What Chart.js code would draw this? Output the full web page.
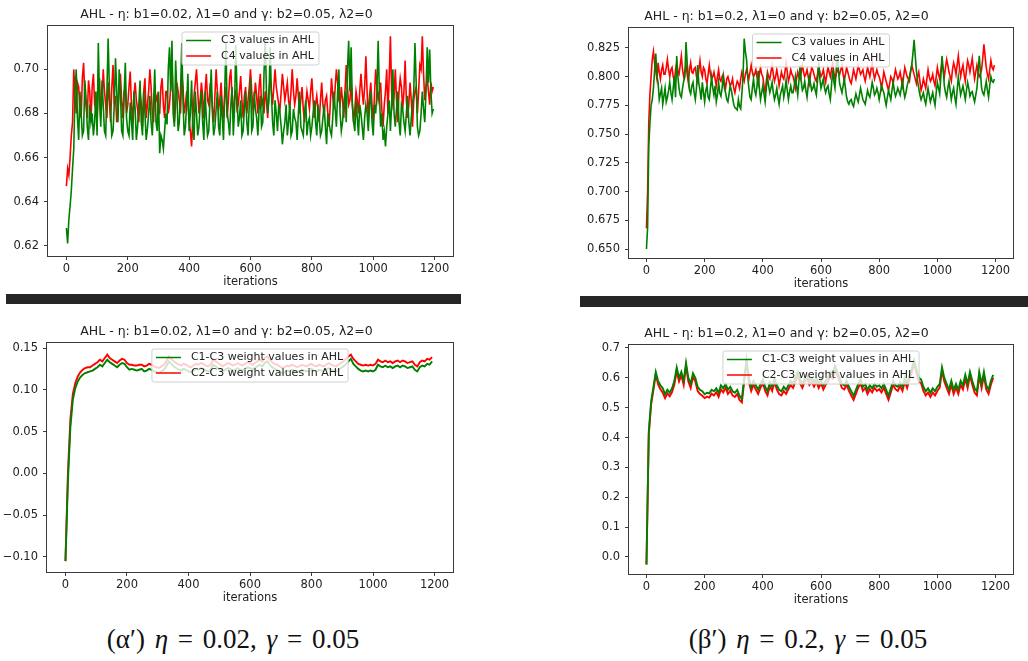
<!DOCTYPE html>
<html lang="en">
  <head>
    <meta charset="UTF-8" />
    <title>AHL values</title>
    <script src="https://cdn.jsdelivr.net/npm/chart.js"></script>
    <style>
      body {
        margin: 0;
        width: 1028px;
        height: 661px;
        background: #fff;
        position: relative;
        overflow: hidden;
      }
      canvas {
        position: absolute;
      }
      .bar {
        position: absolute;
        background: #262626;
        z-index: 2;
      }
      .cap {
        position: absolute;
        top: 624px;
        text-align: center;
        font-family: 'Liberation Serif', serif;
        font-size: 27px;
        word-spacing: 3px;
        color: #111;
      }
    </style>
  </head>
  <body>
    <canvas id="tl" width="470" height="294" style="left:0;top:0"></canvas>
    <canvas id="tr" width="468" height="296" style="left:560px;top:0"></canvas>
    <canvas id="bl" width="470" height="305" style="left:0;top:305px"></canvas>
    <canvas id="br" width="468" height="307" style="left:560px;top:305px"></canvas>
    <div class="bar" style="left:6px;top:294px;width:455px;height:10px"></div>
    <div class="bar" style="left:580px;top:296px;width:448px;height:11px"></div>
    <div class="cap" style="left:0;width:466px">(α′) <i>η</i> = 0.02, <i>γ</i> = 0.05</div>
    <div class="cap" style="left:580px;width:456px">(β′) <i>η</i> = 0.2, <i>γ</i> = 0.05</div>
  </body>
  <script>
    // sample iterations: weights every 8th iteration, activations every 4th
    const iterations = Array.from({ length: 150 }, (_, i) => i * 8)
    const iterationsFine = Array.from({ length: 300 }, (_, i) => i * 4)
    const xTicks = [0, 200, 400, 600, 800, 1000, 1200]

    // top left: eta b1=0.02 (values at 0, 8, 16 ... and at 4, 12, 20 ...)
    const tlYTicks = [0.62, 0.64, 0.66, 0.68, 0.7]
    const tlC3 = [
      0.628, 0.632, 0.645, 0.664, 0.700, 0.668, 0.680, 0.672, 0.687, 0.668,
      0.676, 0.670, 0.690, 0.712, 0.674, 0.684, 0.670, 0.714, 0.680, 0.672,
      0.705, 0.676, 0.690, 0.670, 0.703, 0.672, 0.685, 0.668, 0.682, 0.674,
      0.695, 0.670, 0.680, 0.673, 0.688, 0.670, 0.700, 0.672, 0.662, 0.668,
      0.672, 0.675, 0.710, 0.713, 0.674, 0.690, 0.676, 0.712, 0.670, 0.685,
      0.672, 0.695, 0.668, 0.680, 0.674, 0.690, 0.668, 0.678, 0.672, 0.700,
      0.670, 0.682, 0.674, 0.688, 0.668, 0.712, 0.676, 0.684, 0.670, 0.711,
      0.674, 0.686, 0.672, 0.690, 0.670, 0.696, 0.674, 0.682, 0.670, 0.688,
      0.676, 0.714, 0.680, 0.710, 0.676, 0.686, 0.672, 0.680, 0.666, 0.676,
      0.670, 0.685, 0.672, 0.678, 0.668, 0.690, 0.672, 0.680, 0.670, 0.678,
      0.674, 0.686, 0.670, 0.678, 0.672, 0.684, 0.666, 0.676, 0.670, 0.690,
      0.674, 0.700, 0.672, 0.684, 0.676, 0.713, 0.710, 0.676, 0.686, 0.670,
      0.680, 0.668, 0.684, 0.672, 0.690, 0.670, 0.680, 0.713, 0.674, 0.668,
      0.665, 0.680, 0.672, 0.700, 0.674, 0.690, 0.670, 0.682, 0.672, 0.688,
      0.670, 0.684, 0.712, 0.674, 0.672, 0.690, 0.676, 0.710, 0.709, 0.680,
    ]
    const tlC3Mid = [
      0.621, 0.638, 0.655, 0.690, 0.678, 0.690, 0.670, 0.695, 0.674, 0.684,
      0.680, 0.676, 0.670, 0.686, 0.695, 0.672, 0.690, 0.692, 0.670, 0.684,
      0.690, 0.700, 0.672, 0.688, 0.678, 0.670, 0.676, 0.690, 0.668, 0.684,
      0.676, 0.690, 0.668, 0.680, 0.676, 0.684, 0.676, 0.690, 0.670, 0.664,
      0.680, 0.700, 0.690, 0.680, 0.704, 0.672, 0.690, 0.686, 0.674, 0.698,
      0.680, 0.674, 0.690, 0.670, 0.684, 0.676, 0.690, 0.670, 0.686, 0.680,
      0.674, 0.690, 0.670, 0.678, 0.690, 0.680, 0.670, 0.692, 0.682, 0.690,
      0.678, 0.670, 0.682, 0.676, 0.684, 0.672, 0.690, 0.678, 0.682, 0.674,
      0.698, 0.690, 0.686, 0.690, 0.670, 0.680, 0.684, 0.674, 0.672, 0.684,
      0.676, 0.670, 0.682, 0.676, 0.680, 0.674, 0.670, 0.686, 0.676, 0.670,
      0.680, 0.676, 0.684, 0.670, 0.678, 0.674, 0.680, 0.672, 0.678, 0.682,
      0.690, 0.680, 0.676, 0.690, 0.700, 0.690, 0.684, 0.672, 0.678, 0.684,
      0.674, 0.678, 0.680, 0.684, 0.676, 0.684, 0.690, 0.690, 0.680, 0.672,
      0.674, 0.686, 0.684, 0.680, 0.682, 0.676, 0.684, 0.676, 0.680, 0.676,
      0.678, 0.690, 0.694, 0.670, 0.680, 0.682, 0.690, 0.694, 0.690, 0.682,
    ]
    const tlC4 = [
      0.647, 0.652, 0.670, 0.700, 0.680, 0.692, 0.678, 0.703, 0.684, 0.695,
      0.676, 0.698, 0.682, 0.692, 0.678, 0.700, 0.684, 0.694, 0.676, 0.702,
      0.688, 0.680, 0.698, 0.678, 0.692, 0.684, 0.699, 0.676, 0.694, 0.682,
      0.690, 0.674, 0.696, 0.684, 0.700, 0.680, 0.692, 0.688, 0.680, 0.696,
      0.678, 0.690, 0.684, 0.702, 0.676, 0.694, 0.686, 0.698, 0.680, 0.690,
      0.676, 0.665, 0.688, 0.700, 0.680, 0.694, 0.678, 0.698, 0.684, 0.690,
      0.676, 0.700, 0.682, 0.694, 0.678, 0.692, 0.686, 0.700, 0.680, 0.690,
      0.684, 0.697, 0.678, 0.692, 0.686, 0.700, 0.682, 0.694, 0.680, 0.698,
      0.686, 0.690, 0.678, 0.696, 0.684, 0.700, 0.688, 0.682, 0.698, 0.686,
      0.694, 0.682, 0.700, 0.684, 0.696, 0.680, 0.692, 0.676, 0.690, 0.682,
      0.696, 0.678, 0.688, 0.676, 0.694, 0.680, 0.688, 0.674, 0.696, 0.682,
      0.700, 0.686, 0.692, 0.678, 0.702, 0.684, 0.694, 0.676, 0.690, 0.680,
      0.698, 0.684, 0.706, 0.678, 0.694, 0.676, 0.700, 0.686, 0.694, 0.674,
      0.690, 0.680, 0.715, 0.684, 0.700, 0.676, 0.696, 0.682, 0.704, 0.678,
      0.694, 0.674, 0.690, 0.680, 0.702, 0.715, 0.686, 0.696, 0.684, 0.690,
    ]
    const tlC4Mid = [
      0.655, 0.660, 0.676, 0.688, 0.694, 0.682, 0.696, 0.688, 0.678, 0.690,
      0.692, 0.684, 0.676, 0.696, 0.686, 0.690, 0.678, 0.686, 0.692, 0.684,
      0.676, 0.692, 0.686, 0.690, 0.680, 0.692, 0.684, 0.688, 0.686, 0.676,
      0.684, 0.690, 0.678, 0.690, 0.692, 0.676, 0.686, 0.680, 0.692, 0.684,
      0.690, 0.680, 0.692, 0.686, 0.684, 0.690, 0.680, 0.692, 0.684, 0.684,
      0.672, 0.678, 0.694, 0.690, 0.686, 0.688, 0.690, 0.686, 0.692, 0.682,
      0.688, 0.690, 0.686, 0.684, 0.688, 0.678, 0.696, 0.686, 0.688, 0.682,
      0.690, 0.686, 0.688, 0.680, 0.692, 0.690, 0.686, 0.688, 0.692, 0.684,
      0.680, 0.686, 0.690, 0.690, 0.692, 0.692, 0.684, 0.690, 0.692, 0.690,
      0.686, 0.690, 0.690, 0.688, 0.688, 0.686, 0.682, 0.684, 0.686, 0.690,
      0.686, 0.684, 0.682, 0.686, 0.684, 0.686, 0.680, 0.684, 0.688, 0.692,
      0.694, 0.684, 0.686, 0.690, 0.692, 0.686, 0.684, 0.682, 0.686, 0.690,
      0.690, 0.692, 0.690, 0.688, 0.684, 0.688, 0.692, 0.690, 0.682, 0.684,
      0.700, 0.696, 0.690, 0.688, 0.686, 0.690, 0.692, 0.690, 0.686, 0.684,
      0.686, 0.686, 0.692, 0.690, 0.700, 0.698, 0.692, 0.690, 0.694, 0.692,
    ]

    // top right: eta b1=0.2 (values at 0, 8, 16 ... and at 4, 12, 20 ...)
    const trYTicks = [0.65, 0.675, 0.7, 0.725, 0.75, 0.775, 0.8, 0.825]
    const trC3 = [
      0.650, 0.740, 0.775, 0.790, 0.820, 0.795, 0.785, 0.776, 0.790, 0.782,
      0.795, 0.780, 0.800, 0.818, 0.790, 0.782, 0.796, 0.830, 0.800, 0.785,
      0.795, 0.780, 0.810, 0.788, 0.795, 0.778, 0.792, 0.780, 0.800, 0.784,
      0.778, 0.795, 0.783, 0.800, 0.786, 0.778, 0.792, 0.782, 0.773, 0.771,
      0.774, 0.785, 0.833, 0.815, 0.790, 0.780, 0.798, 0.784, 0.805, 0.780,
      0.792, 0.778, 0.800, 0.786, 0.795, 0.780, 0.790, 0.776, 0.788, 0.782,
      0.797, 0.780, 0.792, 0.786, 0.800, 0.784, 0.810, 0.788, 0.796, 0.782,
      0.800, 0.788, 0.794, 0.784, 0.812, 0.790, 0.798, 0.786, 0.792, 0.780,
      0.806, 0.790, 0.820, 0.794, 0.786, 0.798, 0.782, 0.776, 0.780, 0.774,
      0.785, 0.778, 0.790, 0.780, 0.776, 0.788, 0.782, 0.795, 0.784, 0.790,
      0.780, 0.792, 0.786, 0.775, 0.788, 0.780, 0.795, 0.783, 0.790, 0.784,
      0.796, 0.782, 0.792, 0.800, 0.810, 0.832, 0.805, 0.790, 0.780, 0.786,
      0.776, 0.790, 0.778, 0.786, 0.775, 0.795, 0.785, 0.818, 0.792, 0.782,
      0.796, 0.780, 0.790, 0.776, 0.800, 0.784, 0.792, 0.780, 0.795, 0.783,
      0.787, 0.778, 0.790, 0.818, 0.790, 0.784, 0.796, 0.782, 0.800, 0.795,
    ]
    const trC3Mid = [
      0.669, 0.760, 0.780, 0.805, 0.800, 0.780, 0.790, 0.783, 0.778, 0.788,
      0.786, 0.790, 0.782, 0.800, 0.784, 0.790, 0.800, 0.812, 0.788, 0.792,
      0.786, 0.790, 0.794, 0.780, 0.786, 0.788, 0.782, 0.790, 0.790, 0.792,
      0.784, 0.786, 0.790, 0.790, 0.780, 0.785, 0.788, 0.776, 0.772, 0.780,
      0.772, 0.800, 0.822, 0.800, 0.782, 0.790, 0.788, 0.792, 0.790, 0.786,
      0.785, 0.790, 0.792, 0.790, 0.786, 0.784, 0.782, 0.784, 0.792, 0.788,
      0.788, 0.787, 0.786, 0.792, 0.792, 0.796, 0.796, 0.790, 0.788, 0.792,
      0.794, 0.790, 0.788, 0.796, 0.798, 0.794, 0.790, 0.790, 0.785, 0.792,
      0.796, 0.804, 0.806, 0.790, 0.792, 0.790, 0.778, 0.779, 0.776, 0.780,
      0.781, 0.784, 0.785, 0.778, 0.782, 0.784, 0.788, 0.790, 0.786, 0.786,
      0.786, 0.789, 0.780, 0.782, 0.784, 0.788, 0.788, 0.786, 0.787, 0.790,
      0.788, 0.786, 0.796, 0.805, 0.820, 0.818, 0.796, 0.784, 0.783, 0.780,
      0.783, 0.784, 0.782, 0.780, 0.786, 0.790, 0.800, 0.806, 0.786, 0.790,
      0.788, 0.786, 0.782, 0.788, 0.792, 0.788, 0.786, 0.788, 0.790, 0.786,
      0.782, 0.784, 0.804, 0.804, 0.786, 0.790, 0.788, 0.792, 0.796, 0.798,
    ]
    const trC4 = [
      0.668, 0.760, 0.800, 0.822, 0.805, 0.812, 0.798, 0.810, 0.802, 0.815,
      0.800, 0.808, 0.796, 0.812, 0.802, 0.818, 0.800, 0.810, 0.795, 0.812,
      0.803, 0.808, 0.796, 0.814, 0.800, 0.806, 0.794, 0.810, 0.798, 0.804,
      0.792, 0.806, 0.796, 0.802, 0.790, 0.800, 0.792, 0.798, 0.786, 0.796,
      0.790, 0.804, 0.796, 0.806, 0.798, 0.810, 0.800, 0.806, 0.794, 0.808,
      0.800, 0.786, 0.804, 0.798, 0.810, 0.796, 0.806, 0.792, 0.804, 0.798,
      0.812, 0.796, 0.806, 0.800, 0.790, 0.804, 0.798, 0.810, 0.800, 0.806,
      0.794, 0.808, 0.802, 0.796, 0.810, 0.800, 0.806, 0.795, 0.808, 0.800,
      0.812, 0.798, 0.806, 0.802, 0.810, 0.796, 0.808, 0.800, 0.794, 0.806,
      0.798, 0.810, 0.802, 0.806, 0.796, 0.808, 0.800, 0.812, 0.798, 0.806,
      0.800, 0.790, 0.804, 0.796, 0.788, 0.800, 0.794, 0.806, 0.798, 0.804,
      0.792, 0.808, 0.800, 0.796, 0.810, 0.802, 0.794, 0.804, 0.788, 0.798,
      0.790, 0.806, 0.796, 0.802, 0.792, 0.808, 0.798, 0.812, 0.800, 0.815,
      0.804, 0.796, 0.812, 0.802, 0.818, 0.800, 0.810, 0.796, 0.814, 0.804,
      0.816, 0.798, 0.810, 0.800, 0.806, 0.828, 0.808, 0.798, 0.814, 0.806,
    ]
    const trC4Mid = [
      0.700, 0.785, 0.815, 0.812, 0.798, 0.804, 0.806, 0.802, 0.808, 0.806,
      0.806, 0.800, 0.806, 0.804, 0.810, 0.806, 0.804, 0.802, 0.806, 0.804,
      0.807, 0.800, 0.806, 0.804, 0.808, 0.798, 0.802, 0.802, 0.800, 0.798,
      0.800, 0.798, 0.800, 0.794, 0.798, 0.796, 0.794, 0.790, 0.792, 0.794,
      0.798, 0.800, 0.802, 0.802, 0.804, 0.804, 0.802, 0.800, 0.802, 0.802,
      0.792, 0.796, 0.800, 0.804, 0.802, 0.800, 0.800, 0.798, 0.800, 0.804,
      0.804, 0.800, 0.802, 0.796, 0.798, 0.800, 0.804, 0.804, 0.802, 0.800,
      0.802, 0.806, 0.798, 0.802, 0.804, 0.802, 0.800, 0.802, 0.804, 0.806,
      0.804, 0.802, 0.804, 0.806, 0.802, 0.802, 0.804, 0.796, 0.800, 0.802,
      0.804, 0.806, 0.804, 0.800, 0.802, 0.804, 0.806, 0.804, 0.802, 0.802,
      0.796, 0.796, 0.800, 0.792, 0.794, 0.798, 0.800, 0.802, 0.800, 0.798,
      0.800, 0.804, 0.798, 0.804, 0.806, 0.798, 0.800, 0.796, 0.792, 0.794,
      0.798, 0.800, 0.798, 0.796, 0.800, 0.802, 0.806, 0.806, 0.808, 0.810,
      0.800, 0.806, 0.808, 0.810, 0.808, 0.806, 0.802, 0.806, 0.810, 0.810,
      0.806, 0.804, 0.804, 0.802, 0.816, 0.818, 0.802, 0.806, 0.808, 0.810,
    ]

    // bottom left: weights, eta b1=0.02
    const blYTicks = [-0.1, -0.05, 0, 0.05, 0.1, 0.15]
    const blC1C3 = [
      -0.105, -0.010, 0.055, 0.088, 0.102, 0.110, 0.115, 0.118, 0.120, 0.121,
      0.122, 0.123, 0.125, 0.127, 0.130, 0.128, 0.132, 0.136, 0.133, 0.131,
      0.129, 0.127, 0.130, 0.132, 0.131, 0.127, 0.124, 0.125, 0.124, 0.123,
      0.124, 0.125, 0.122, 0.123, 0.125, 0.124, 0.122, 0.121, 0.120, 0.122,
      0.124, 0.128, 0.134, 0.131, 0.128, 0.126, 0.124, 0.123, 0.125, 0.124,
      0.122, 0.121, 0.123, 0.125, 0.124, 0.126, 0.125, 0.123, 0.122, 0.124,
      0.130, 0.128, 0.126, 0.124, 0.122, 0.124, 0.126, 0.125, 0.123, 0.124,
      0.126, 0.124, 0.123, 0.125, 0.127, 0.126, 0.124, 0.126, 0.128, 0.130,
      0.128, 0.132, 0.134, 0.130, 0.127, 0.125, 0.124, 0.122, 0.120, 0.121,
      0.123, 0.122, 0.124, 0.123, 0.121, 0.122, 0.124, 0.123, 0.122, 0.124,
      0.125, 0.123, 0.122, 0.124, 0.123, 0.122, 0.124, 0.126, 0.124, 0.123,
      0.122, 0.124, 0.126, 0.128, 0.131, 0.134, 0.137, 0.131, 0.128, 0.125,
      0.123, 0.122, 0.123, 0.122, 0.123, 0.122, 0.124, 0.130, 0.128, 0.127,
      0.129, 0.127, 0.128, 0.126, 0.128, 0.129, 0.127, 0.129, 0.128, 0.126,
      0.127, 0.128, 0.124, 0.122, 0.127, 0.129, 0.128, 0.131, 0.130, 0.134,
    ]
    const blC2C3 = [
      -0.105, 0.000, 0.065, 0.095, 0.108, 0.116, 0.121, 0.124, 0.126, 0.127,
      0.127, 0.129, 0.131, 0.133, 0.136, 0.134, 0.138, 0.142, 0.138, 0.136,
      0.134, 0.132, 0.135, 0.137, 0.136, 0.132, 0.130, 0.130, 0.129, 0.129,
      0.130, 0.130, 0.128, 0.129, 0.131, 0.130, 0.128, 0.127, 0.126, 0.128,
      0.130, 0.134, 0.140, 0.137, 0.134, 0.132, 0.130, 0.129, 0.131, 0.130,
      0.128, 0.127, 0.129, 0.131, 0.130, 0.132, 0.131, 0.129, 0.128, 0.130,
      0.136, 0.134, 0.132, 0.130, 0.128, 0.130, 0.132, 0.131, 0.129, 0.130,
      0.132, 0.130, 0.129, 0.131, 0.133, 0.132, 0.130, 0.132, 0.134, 0.136,
      0.134, 0.138, 0.140, 0.136, 0.133, 0.131, 0.130, 0.128, 0.126, 0.127,
      0.129, 0.128, 0.130, 0.129, 0.127, 0.128, 0.130, 0.129, 0.128, 0.130,
      0.131, 0.129, 0.128, 0.130, 0.129, 0.128, 0.130, 0.132, 0.130, 0.129,
      0.128, 0.130, 0.132, 0.134, 0.137, 0.140, 0.142, 0.137, 0.134, 0.131,
      0.130, 0.129, 0.130, 0.129, 0.130, 0.129, 0.131, 0.136, 0.134, 0.133,
      0.135, 0.133, 0.134, 0.132, 0.134, 0.135, 0.133, 0.135, 0.134, 0.132,
      0.133, 0.134, 0.130, 0.128, 0.133, 0.135, 0.134, 0.137, 0.136, 0.139,
    ]

    // bottom right: weights, eta b1=0.2
    const brYTicks = [0, 0.1, 0.2, 0.3, 0.4, 0.5, 0.6, 0.7]
    const brC1C3 = [
      -0.025, 0.420, 0.520, 0.570, 0.620, 0.590, 0.575, 0.565, 0.545, 0.560,
      0.550, 0.565, 0.590, 0.635, 0.600, 0.620, 0.590, 0.650, 0.600, 0.580,
      0.615, 0.600, 0.570, 0.560, 0.555, 0.545, 0.550, 0.548, 0.560, 0.555,
      0.565, 0.550, 0.575, 0.565, 0.580, 0.560, 0.570, 0.555, 0.550, 0.560,
      0.540, 0.530, 0.600, 0.660, 0.600, 0.570, 0.590, 0.575, 0.560, 0.580,
      0.595, 0.570, 0.555, 0.585, 0.570, 0.600, 0.575, 0.560, 0.555, 0.570,
      0.560, 0.575, 0.590, 0.580, 0.600, 0.620, 0.595, 0.580, 0.600, 0.610,
      0.590, 0.600, 0.585, 0.600, 0.580, 0.595, 0.575, 0.590, 0.600, 0.620,
      0.610, 0.640, 0.620, 0.600, 0.580, 0.575, 0.590, 0.570, 0.555, 0.540,
      0.560, 0.580, 0.595, 0.570, 0.580, 0.560, 0.575, 0.565, 0.580, 0.570,
      0.575, 0.565, 0.580, 0.560, 0.540, 0.565, 0.590, 0.575, 0.570, 0.585,
      0.570, 0.600, 0.580, 0.610, 0.630, 0.660, 0.630, 0.600, 0.595, 0.570,
      0.555, 0.565, 0.550, 0.565, 0.555, 0.570, 0.580, 0.635, 0.600, 0.580,
      0.560, 0.590, 0.560, 0.580, 0.560, 0.590, 0.575, 0.610, 0.580, 0.620,
      0.590, 0.565, 0.555, 0.620, 0.580, 0.620, 0.575, 0.560, 0.590, 0.610,
    ]
    const brC2C3 = [
      -0.025, 0.410, 0.510, 0.560, 0.612, 0.578, 0.562, 0.550, 0.532, 0.548,
      0.538, 0.552, 0.578, 0.622, 0.588, 0.608, 0.576, 0.640, 0.588, 0.566,
      0.603, 0.588, 0.556, 0.546, 0.540, 0.532, 0.537, 0.534, 0.547, 0.541,
      0.552, 0.536, 0.562, 0.551, 0.567, 0.546, 0.557, 0.541, 0.536, 0.546,
      0.526, 0.518, 0.588, 0.655, 0.586, 0.556, 0.577, 0.561, 0.546, 0.567,
      0.582, 0.556, 0.541, 0.572, 0.556, 0.587, 0.561, 0.546, 0.541, 0.556,
      0.546, 0.562, 0.577, 0.566, 0.587, 0.607, 0.581, 0.566, 0.587, 0.597,
      0.576, 0.587, 0.571, 0.587, 0.566, 0.582, 0.561, 0.577, 0.587, 0.607,
      0.597, 0.628, 0.607, 0.587, 0.566, 0.561, 0.577, 0.556, 0.541, 0.526,
      0.546, 0.567, 0.582, 0.556, 0.567, 0.546, 0.562, 0.551, 0.567, 0.556,
      0.562, 0.551, 0.567, 0.546, 0.526, 0.551, 0.577, 0.562, 0.556, 0.572,
      0.556, 0.587, 0.566, 0.597, 0.618, 0.648, 0.617, 0.587, 0.582, 0.556,
      0.541, 0.551, 0.536, 0.551, 0.541, 0.556, 0.567, 0.624, 0.587, 0.566,
      0.546, 0.577, 0.546, 0.567, 0.546, 0.577, 0.561, 0.597, 0.566, 0.608,
      0.577, 0.551, 0.541, 0.608, 0.566, 0.607, 0.561, 0.546, 0.577, 0.600,
    ]

    const GREEN = '#008000'
    const RED = '#ff0000'
    const INK = '#222'

    Chart.defaults.font.family = '"DejaVu Sans", sans-serif'
    Chart.defaults.font.size = 11.5
    Chart.defaults.color = INK

    // put the 8-step samples and the in-between samples back in order
    function merge(even, odd) {
      const out = []
      even.forEach((v, i) => out.push(v, odd[i]))
      return out
    }

    // box round the plot area, like matplotlib spines
    const framePlugin = {
      id: 'frame',
      afterDatasetsDraw(chart) {
        const { ctx, chartArea: a } = chart
        ctx.save()
        ctx.strokeStyle = '#3a3a3a'
        ctx.lineWidth = 1
        ctx.strokeRect(
          Math.round(a.left) - 0.5,
          Math.round(a.top) - 0.5,
          Math.round(a.right - a.left) + 1,
          Math.round(a.bottom - a.top) + 1
        )
        ctx.restore()
      },
    }

    // legend box inside the axes, upper center
    const boxLegend = {
      id: 'boxLegend',
      afterDraw(chart) {
        const { ctx, chartArea: a } = chart
        const sets = chart.data.datasets
        ctx.save()
        ctx.font = '11px "DejaVu Sans"'
        const textW = Math.max(...sets.map((d) => ctx.measureText(d.label).width))
        const w = 4 + 25 + 10 + textW + 5
        const h = 33
        const x0 = (a.left + a.right) / 2 - w / 2
        const y0 = a.top + 6
        ctx.fillStyle = 'rgba(255,255,255,0.8)'
        ctx.strokeStyle = '#d0d0d0'
        ctx.lineWidth = 1
        ctx.beginPath()
        ctx.roundRect(x0, y0, w, h, 2)
        ctx.fill()
        ctx.stroke()
        sets.forEach((d, i) => {
          const y = y0 + 8.5 + i * 15.5
          ctx.strokeStyle = d.borderColor
          ctx.lineWidth = 1.5
          ctx.beginPath()
          ctx.moveTo(x0 + 4, y)
          ctx.lineTo(x0 + 29, y)
          ctx.stroke()
          ctx.fillStyle = INK
          ctx.textBaseline = 'middle'
          ctx.fillText(d.label, x0 + 39, y)
        })
        ctx.restore()
      },
    }

    function makeChart(id, cfg) {
      const ctx = document.getElementById(id).getContext('2d')
      return new Chart(ctx, {
        type: 'line',
        data: {
          datasets: cfg.series.map((s) => ({
            label: s.label,
            data: s.values.map((v, i) => ({ x: cfg.xs[i], y: v })),
            borderColor: s.color,
            borderWidth: cfg.lineWidth,
            pointRadius: 0,
            tension: 0,
            fill: false,
          })),
        },
        options: {
          responsive: false,
          animation: false,
          events: [],
          layout: { padding: { top: cfg.padTop, right: cfg.padRight, left: 0, bottom: 0 } },
          plugins: {
            legend: { display: false },
            tooltip: { enabled: false },
            title: {
              display: true,
              text: cfg.title,
              color: INK,
              font: { size: 12.5, weight: 'normal' },
              padding: { top: 7, bottom: 4 },
            },
          },
          scales: {
            x: {
              type: 'linear',
              min: -60,
              max: 1260,
              afterBuildTicks: (axis) => {
                axis.ticks = xTicks.map((v) => ({ value: v }))
              },
              afterFit: (axis) => {
                axis.height = 38
              },
              border: { display: false },
              grid: { drawOnChartArea: false, tickLength: 4, color: '#3a3a3a' },
              ticks: {
                padding: 2,
                autoSkip: false,
                maxRotation: 0,
                color: INK,
                callback: (v) => String(v),
              },
              title: {
                display: true,
                text: 'iterations',
                color: INK,
                padding: { top: 0, bottom: 5 },
              },
            },
            y: {
              min: cfg.yMin,
              max: cfg.yMax,
              afterBuildTicks: (axis) => {
                axis.ticks = cfg.yTicks.map((v) => ({ value: v }))
              },
              afterFit: (axis) => {
                axis.width = cfg.yWidth
              },
              border: { display: false },
              grid: { drawOnChartArea: false, tickLength: 4, color: '#3a3a3a' },
              ticks: {
                padding: 5,
                color: INK,
                callback: (v) => v.toFixed(cfg.digits).replace('-', '\u2212'),
              },
            },
          },
        },
        plugins: [framePlugin, boxLegend],
      })
    }

    makeChart('tl', {
      title: 'AHL - η: b1=0.02, λ1=0 and γ: b2=0.05, λ2=0',
      xs: iterationsFine,
      lineWidth: 1.6,
      padTop: 0,
      padRight: 17,
      yWidth: 48,
      yMin: 0.6153,
      yMax: 0.7197,
      yTicks: tlYTicks,
      digits: 2,
      series: [
        { label: 'C3 values in AHL', values: merge(tlC3, tlC3Mid), color: GREEN },
        { label: 'C4 values in AHL', values: merge(tlC4, tlC4Mid), color: RED },
      ],
    })

    makeChart('tr', {
      title: 'AHL - η: b1=0.2, λ1=0 and γ: b2=0.05, λ2=0',
      xs: iterationsFine,
      lineWidth: 1.6,
      padTop: 2,
      padRight: 15,
      yWidth: 69,
      yMin: 0.6422,
      yMax: 0.8423,
      yTicks: trYTicks,
      digits: 3,
      series: [
        { label: 'C3 values in AHL', values: merge(trC3, trC3Mid), color: GREEN },
        { label: 'C4 values in AHL', values: merge(trC4, trC4Mid), color: RED },
      ],
    })

    makeChart('bl', {
      title: 'AHL - η: b1=0.02, λ1=0 and γ: b2=0.05, λ2=0',
      xs: iterations,
      lineWidth: 1.9,
      padTop: 12,
      padRight: 17,
      yWidth: 47,
      yMin: -0.118,
      yMax: 0.156,
      yTicks: blYTicks,
      digits: 2,
      series: [
        { label: 'C1-C3 weight values in AHL', values: blC1C3, color: GREEN },
        { label: 'C2-C3 weight values in AHL', values: blC2C3, color: RED },
      ],
    })

    makeChart('br', {
      title: 'AHL - η: b1=0.2, λ1=0 and γ: b2=0.05, λ2=0',
      xs: iterations,
      lineWidth: 1.9,
      padTop: 14,
      padRight: 15,
      yWidth: 69,
      yMin: -0.057,
      yMax: 0.71,
      yTicks: brYTicks,
      digits: 1,
      series: [
        { label: 'C1-C3 weight values in AHL', values: brC1C3, color: GREEN },
        { label: 'C2-C3 weight values in AHL', values: brC2C3, color: RED },
      ],
    })
  </script>
</html>
